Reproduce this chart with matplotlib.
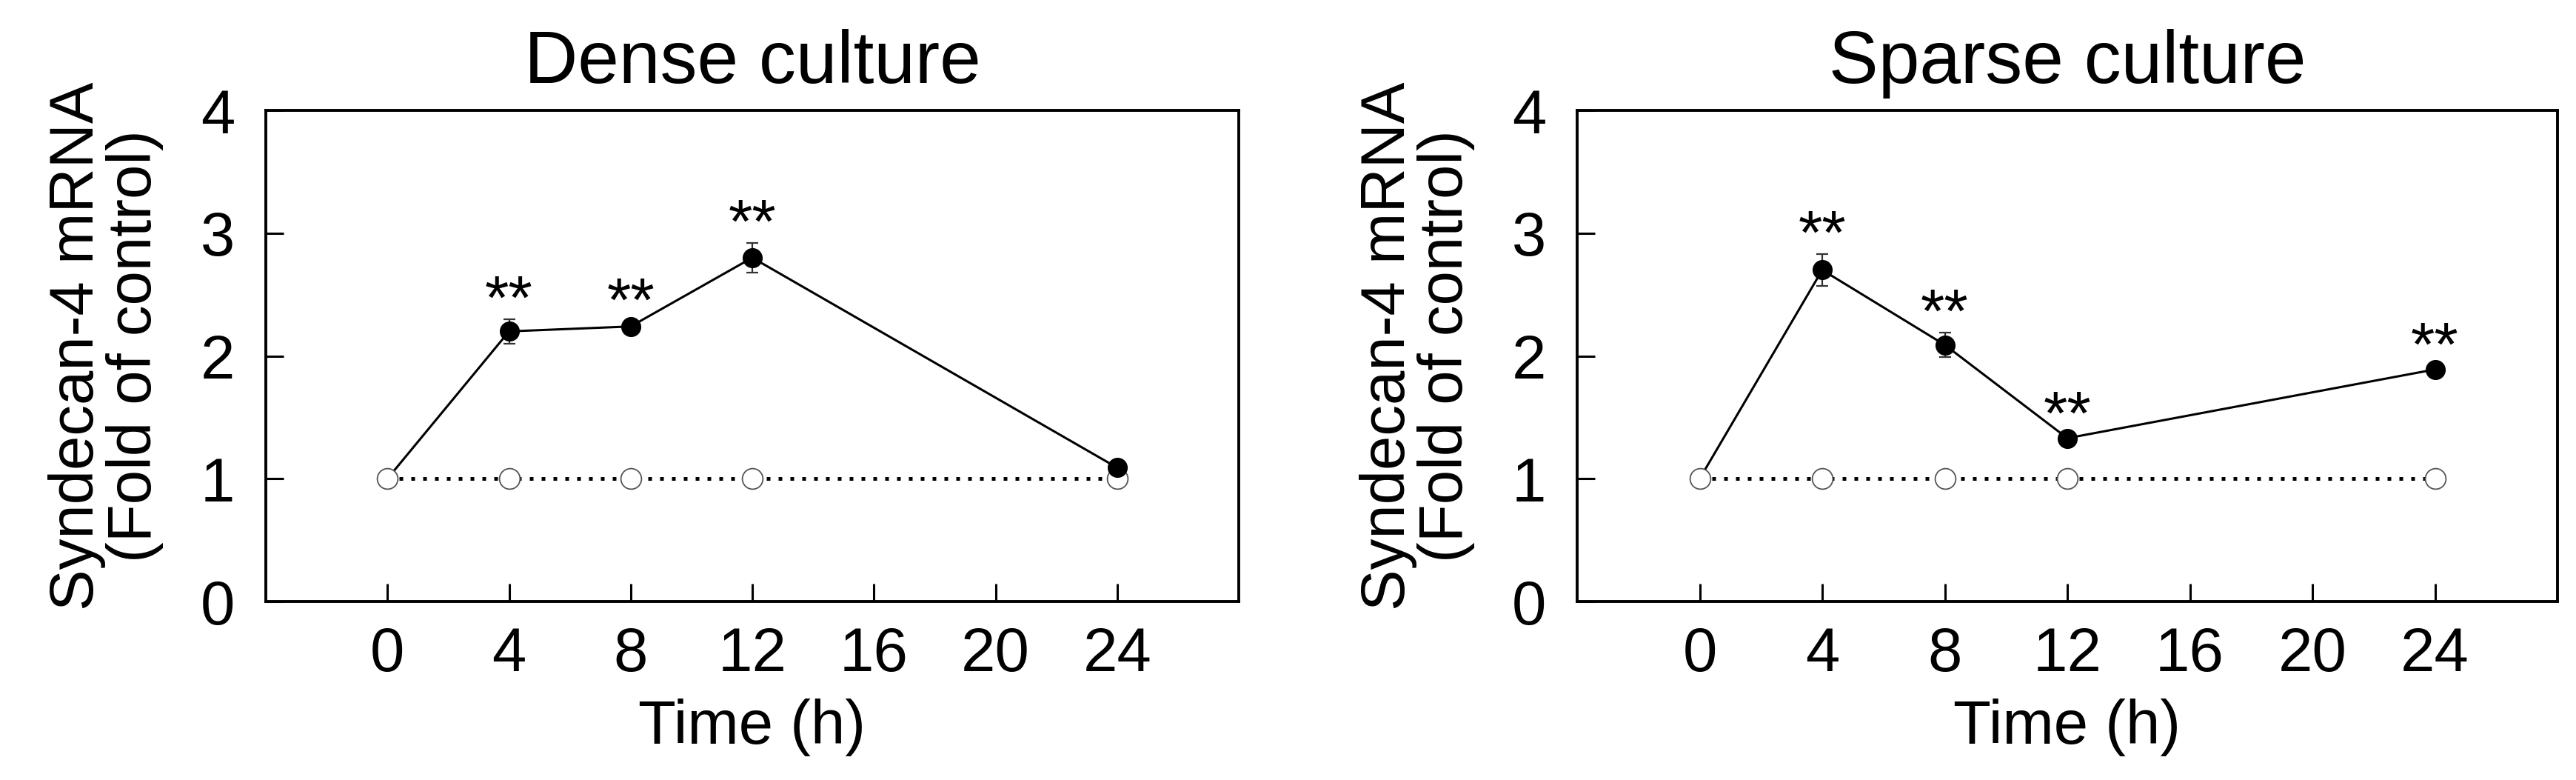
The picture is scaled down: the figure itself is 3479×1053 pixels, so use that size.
import matplotlib
matplotlib.use("Agg")
import matplotlib.pyplot as plt

plt.rcParams['font.family'] = ['Liberation Sans', 'DejaVu Sans']

# ---- data ----
time_h = [0, 4, 8, 12, 24]
control = [1.0, 1.0, 1.0, 1.0, 1.0]

dense_mean = [1.0, 2.20, 2.24, 2.80, 1.09]
dense_err = [0.0, 0.10, 0.04, 0.12, 0.03]
dense_sig = ['', '**', '**', '**', '']

sparse_mean = [1.0, 2.70, 2.09, 1.33, 1.89]
sparse_err = [0.0, 0.13, 0.10, 0.03, 0.03]
sparse_sig = ['', '**', '**', '**', '**']

titles = ['Dense culture', 'Sparse culture']
ylabel = 'Syndecan-4 mRNA\n(Fold of control)'
xlabel = 'Time (h)'
xticks = [0, 4, 8, 12, 16, 20, 24]
yticks = [0, 1, 2, 3, 4]

W, H = 3479, 1053
fig = plt.figure(figsize=(W / 100, H / 100), dpi=100)

boxes = [(359, 1673), (2130, 3454)]
top_px, bot_px = 149, 812

panels = [(dense_mean, dense_err, dense_sig), (sparse_mean, sparse_err, sparse_sig)]

for (x0, x1), title, (mean, err, sig) in zip(boxes, titles, panels):
    ax = fig.add_axes([x0 / W, (H - bot_px) / H, (x1 - x0) / W, (bot_px - top_px) / H])
    # treated line (under control markers at 0 h)
    ax.plot(time_h, mean, '-', color='black', lw=2.2, zorder=2)
    # control
    ax.plot(time_h, control, linestyle=(0, (1, 2.2)), lw=3.6, color='black',
            marker='o', ms=20, mfc='white', mec='#555555', mew=1.3, zorder=3)
    # treated markers with error bars
    ax.errorbar(time_h[1:], mean[1:], yerr=err[1:], fmt='o', color='black',
                ms=18.5, ecolor='#333333', elinewidth=1.6, capsize=6, capthick=1.6,
                zorder=4)
    for t, m, e, s in zip(time_h, mean, err, sig):
        if s:
            ax.text(t, m + e, s, ha='center', va='baseline', fontsize=60, zorder=5)

    ax.set_xlim(-4, 28)
    ax.set_ylim(0, 4)
    ax.set_xticks(xticks)
    ax.set_yticks(yticks)
    ax.tick_params(direction='in', length=17, width=2.2, labelsize=60)
    ax.tick_params(axis='y', pad=30)
    ax.tick_params(axis='x', pad=24)
    for sp in ax.spines.values():
        sp.set_linewidth(2.8)
    ax.set_title(title, fontsize=72, pad=26.6)
    ax.set_xlabel(xlabel, fontsize=60, labelpad=14)
    ax.set_ylabel(ylabel, fontsize=60, labelpad=36, linespacing=1.0)
    ax.yaxis.label.set_y(0.52)

fig.savefig('out.png', dpi=100)
